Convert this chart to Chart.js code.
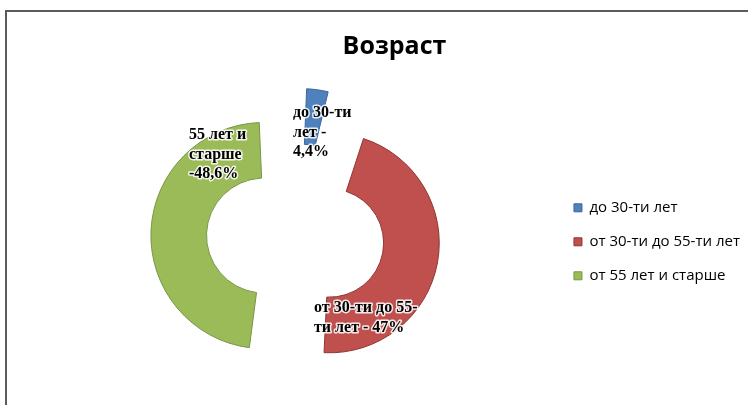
<!DOCTYPE html>
<html>
<head>
<meta charset="utf-8">
<script src="https://cdn.jsdelivr.net/npm/chart.js@4.4.1/dist/chart.umd.min.js"></script>
<style>
  html, body { margin: 0; padding: 0; overflow: hidden; background: #fff; }
  #frame { position: absolute; left: 5px; top: 10px; width: 800px; height: 500px;
           border-top: 2px solid #5b5b5b; border-left: 2px solid #5b5b5b; }
  #myChart { position: absolute; left: 0; top: 0; }
</style>
</head>
<body>
<div id="frame"></div>
<canvas id="myChart" width="748" height="412"></canvas>
<script>
const ctx = document.getElementById('myChart');

// data
const categories  = ['до 30-ти лет', 'от 30-ти до 55-ти лет', 'от 55 лет и старше'];
const shares      = [4.4, 47, 48.6];
const sliceLabels = [['до 30-ти', 'лет -', '4,4%'], ['от 30-ти до 55-', 'ти лет - 47%'], ['55 лет и', 'старше', '-48,6%']];

// styles
const fills = ['#4f81bd', '#c0504d', '#9bbb59'];
const edges = ['#3b679e', '#8e3532', '#789642'];
// chart.js moves a slice by offset / 4
const explode = [152, 132, 132];
// label spots, relative to the doughnut centre
const labelSpots = [[-4, -124], [17, 71], [-108, -102]];

const sliceText = {
    id: 'sliceText',
    afterDatasetsDraw(chart) {
        const c = chart.ctx;
        const arcs = chart.getDatasetMeta(0).data;
        c.save();
        c.font = 'bold 16px "Liberation Serif"';
        c.textAlign = 'left';
        c.textBaseline = 'middle';
        c.lineJoin = 'round';
        arcs.forEach((arc, i) => {
            sliceLabels[i].forEach((line, j) => {
                const x = arc.x + labelSpots[i][0];
                const y = arc.y + labelSpots[i][1] + j * 19.5;
                c.lineWidth = 3;
                c.strokeStyle = 'rgba(255,255,255,0.85)';
                c.strokeText(line, x, y);
                c.fillStyle = '#000';
                c.fillText(line, x, y);
            });
        });
        c.restore();
    }
};

new Chart(ctx, {
    type: 'doughnut',
    data: {
        labels: categories,
        datasets: [{
            data: shares,
            backgroundColor: fills,
            borderColor: edges,
            borderWidth: 1,
            offset: explode
        }]
    },
    options: {
        responsive: false,
        animation: false,
        radius: 83,
        cutout: '33%',
        layout: { padding: { left: 39, right: -2, top: 0, bottom: 0 } },
        plugins: {
            title: {
                display: true,
                text: 'Возраст',
                color: '#000',
                font: { family: 'Open Sans', size: 25, weight: 'bold' },
                padding: { top: 32, bottom: 0 }
            },
            legend: {
                position: 'right',
                fullSize: false,
                title: { display: true, text: '', font: { size: 8 }, padding: 0 },
                labels: {
                    boxWidth: 8,
                    boxHeight: 8,
                    padding: 19,
                    color: '#000',
                    font: { family: 'Open Sans', size: 15 }
                }
            },
            tooltip: { enabled: false }
        }
    },
    plugins: [sliceText]
});
</script>
</body>
</html>
